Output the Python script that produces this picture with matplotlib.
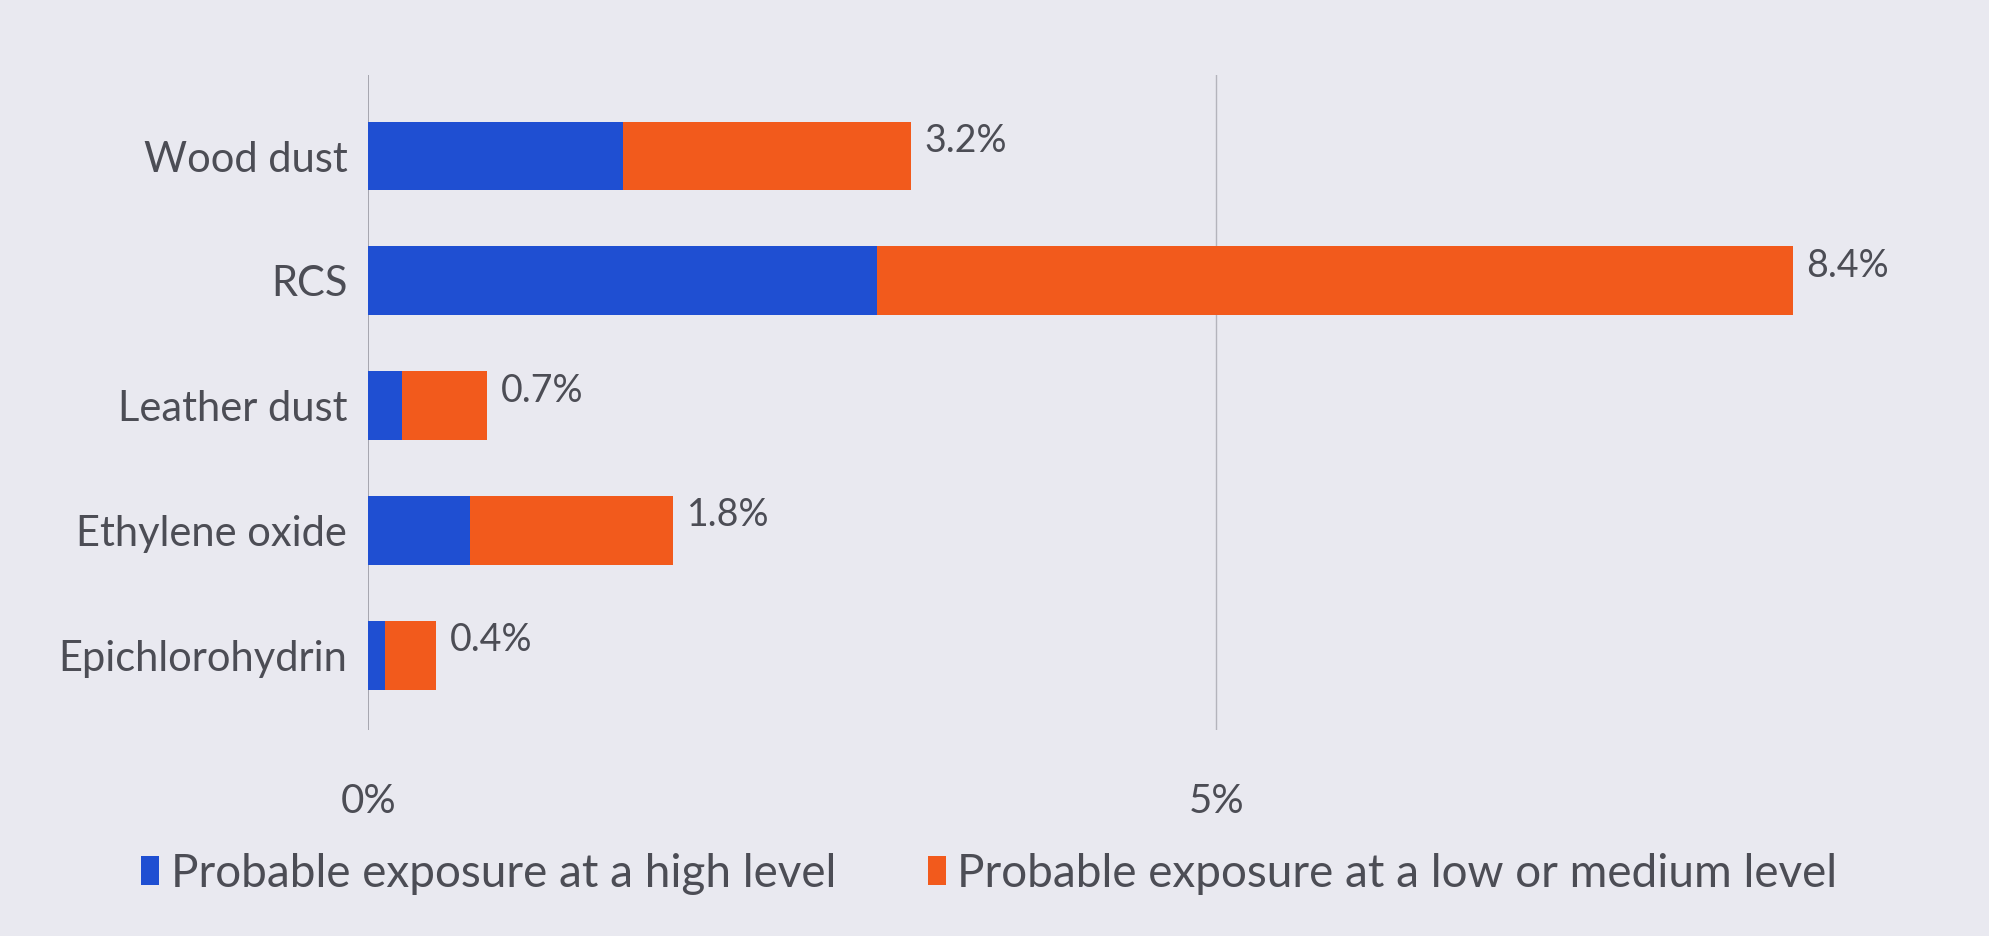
import matplotlib.pyplot as plt
import numpy as np

categories = ["Wood dust", "RCS", "Leather dust", "Ethylene oxide", "Epichlorohydrin"]
high_level = [1.5, 3.0, 0.2, 0.6, 0.1]
low_medium_level = [1.7, 5.4, 0.5, 1.2, 0.3]
x_ticks = [0, 5]
x_tick_labels = ["0%", "5%"]

BLUE = "#1f4fd2"
ORANGE = "#f25a1c"
TEXT = "#4c4d55"
BG = "#e9e9f0"

plt.rcParams['font.family'] = ['Lato', 'DejaVu Sans']

fig = plt.figure(figsize=(19.9, 9.36), dpi=100, facecolor=BG)
ax = fig.add_axes([0.185, 0.22, 0.75, 0.70], facecolor=BG)

y = np.arange(len(categories))
high = np.array(high_level)
low = np.array(low_medium_level)
totals = high + low

ax.barh(y, high, height=0.55, color=BLUE, label="Probable exposure at a high level", zorder=3)
ax.barh(y, low, left=high, height=0.55, color=ORANGE,
        label="Probable exposure at a low or medium level", zorder=3)

# total share printed at the end of each bar
for yi, t in zip(y, totals):
    ax.text(t + 0.08, yi - 0.12, f"{t:.1f}%", va="center", ha="left",
            fontsize=27, color=TEXT)

ax.set_xlim(0, 8.8)
ax.set_ylim(len(categories) - 0.4, -0.65)
ax.set_yticks(y)
ax.set_yticklabels(categories, fontsize=30, color=TEXT)
ax.set_xticks(x_ticks)
ax.set_xticklabels(x_tick_labels, fontsize=29, color=TEXT)
ax.tick_params(axis="both", length=0)
ax.tick_params(axis="x", pad=38)
ax.tick_params(axis="y", pad=15)

for s in ["top", "right", "bottom", "left"]:
    ax.spines[s].set_visible(False)
ax.axvline(0, color="#9a9aa4", lw=1.2, zorder=2)
ax.axvline(5, color="#b4b4bc", lw=1.0, zorder=2)

leg = fig.legend(loc="lower left", bbox_to_anchor=(0.05, 0.0), ncol=2, frameon=False,
                 fontsize=33, handlelength=0.4, handleheight=0.6, handletextpad=0.25,
                 columnspacing=2.0)
for t in leg.get_texts():
    t.set_color(TEXT)

fig.savefig("out.png", dpi=100, facecolor=BG)
